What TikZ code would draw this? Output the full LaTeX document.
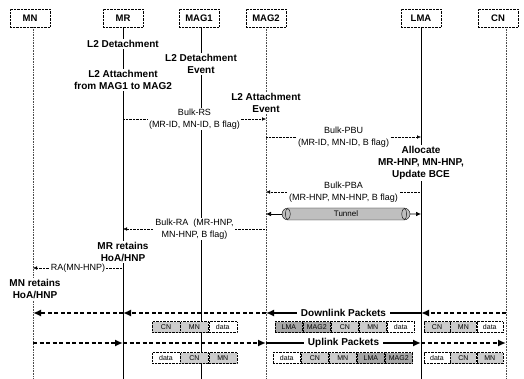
\documentclass[tikz,border=0pt]{standalone}
\usepackage{fontspec}
\setmainfont{Liberation Sans}
\usetikzlibrary{positioning}
\usetikzlibrary{calc}
\usetikzlibrary{arrows.meta}
\usetikzlibrary{shapes.misc}

\begin{document}
\begin{tikzpicture}[x=1pt,y=-1pt,
    ent/.style={draw, densely dotted, minimum width=40pt, minimum height=18pt, inner sep=1pt, font=\fontsize{9.5}{11}\selectfont\bfseries},
    lifedot/.style={draw=black!70, densely dotted, semithick},
    lifesol/.style={draw=black, semithick},
    evt/.style={fill=white, align=center, inner sep=1pt, font=\fontsize{10}{12}\selectfont\bfseries},
    msg/.style={densely dotted, -{Latex[length=4pt,width=3.5pt]}},
    lbl/.style={fill=white, align=center, inner sep=1pt, font=\fontsize{9}{12}\selectfont},
    pkt/.style={draw, densely dotted, fill=black!20, minimum width=28pt, minimum height=11pt, inner sep=0pt, font=\fontsize{7}{8}\selectfont},
    pktd/.style={pkt, fill=black!35},
    pktw/.style={pkt, fill=white},
    flow/.style={line width=1.8pt, -{Latex[length=8pt,width=7pt]}},
    flowd/.style={flow, dash pattern=on 4pt off 2.5pt},
    tunel/.style={draw, rounded rectangle, fill=black!25, minimum width=128pt, minimum height=12pt, inner sep=0pt, font=\fontsize{8}{9}\selectfont}
]
\useasboundingbox (0,0) rectangle (524,379);

% Entidades
\node[ent] (mn) at (30,18) {MN};
\node[ent] (mr) at (123,18) {MR};
\node[ent] (mag1) at (199,18) {MAG1};
\node[ent] (mag2) at (266,18) {MAG2};
\node[ent] (lma) at (421,18) {LMA};
\node[ent] (cn) at (498,18) {CN};

% Linhas de vida
\coordinate (mn-b) at (33,379);
\coordinate (mr-b) at (123,379);
\coordinate (mag1-b) at (201,379);
\coordinate (mag2-b) at (266,379);
\coordinate (lma-b) at (421,379);
\coordinate (cn-b) at (506,379);
\draw[lifedot] (mn.south -| mn-b) -- (mn-b);
\draw[lifesol] (mr) -- (mr-b);
\draw[lifesol, thick] (mag1.south -| mag1-b) -- (mag1-b);
\draw[lifedot] (mag2) -- (mag2-b);
\draw[lifesol, thick] (lma) -- (lma-b);
\draw[lifedot] (cn.south -| cn-b) -- (cn-b);

% Niveis das mensagens
\coordinate (y-rs) at (0,119);
\coordinate (y-pbu) at (0,137);
\coordinate (y-pba) at (0,192);
\coordinate (y-ra) at (0,229);
\coordinate (y-rmn) at (0,268);
\coordinate (y-dl) at (0,313);
\coordinate (y-ul) at (0,343);

% Eventos
\node[evt] (mr-det) at (123,44) {L2 Detachment};
\node[evt] (mr-att) at (123,80) {L2 Attachment\\from MAG1 to MAG2};
\node[evt] (mag1-det) at (201,64) {L2 Detachment\\Event};
\node[evt] (mag2-att) at (266,103) {L2 Attachment\\Event};
\node[evt] (lma-aloc) at (421,163) {Allocate\\MR-HNP, MN-HNP,\\Update BCE};
\node[evt] (mr-ret) at (123,252) {MR retains\\HoA/HNP};
\node[evt] (mn-ret) at (35,289) {MN retains\\HoA/HNP};

% Mensagens
\draw[msg] (mr-b |- y-rs) -- node[lbl] {Bulk-RS\\(MR-ID, MN-ID, B flag)} (mag2-b |- y-rs);
\draw[msg] (mag2-b |- y-pbu) -- node[lbl] {Bulk-PBU\\(MR-ID, MN-ID, B flag)} (lma-b |- y-pbu);
\draw[msg] (lma-b |- y-pba) -- node[lbl] {Bulk-PBA\\(MR-HNP, MN-HNP, B flag)} (mag2-b |- y-pba);
\draw[msg] (mag2-b |- y-ra) -- node[lbl] {Bulk-RA\ \ (MR-HNP,\\MN-HNP, B flag)} (mr-b |- y-ra);
\draw[msg] (mr-b |- y-rmn) -- node[lbl] {RA(MN-HNP)} (mn-b |- y-rmn);

% Tunel
\node[tunel] (tun) at (346,214) {Tunnel};
\draw[semithick, -{Latex[length=5pt,width=4.5pt]}] (tun) -- (mag2-b |- tun);
\draw[semithick, -{Latex[length=5pt,width=4.5pt]}] (tun) -- (lma-b |- tun);
\draw ([xshift=6pt]tun.west) ellipse [x radius=2.5pt, y radius=5.5pt];
\draw ([xshift=-6pt]tun.east) ellipse [x radius=2.5pt, y radius=5.5pt];

% Pacotes de descida
\draw[flowd] (cn-b |- y-dl) -- (lma-b |- y-dl);
\draw[flow] (lma-b |- y-dl) -- node[evt, inner xsep=4pt] {Downlink Packets} (mag2-b |- y-dl);
\draw[flowd] (mag2-b |- y-dl) -- (mr-b |- y-dl);
\draw[flowd] (mr-b |- y-dl) -- (mn-b |- y-dl);

\node[pkt] (d-cn1) at (166,327) {CN};
\node[pkt, right=0pt of d-cn1] (d-mn1) {MN};
\node[pktw, right=0pt of d-mn1] (d-data1) {data};

\node[pktd, minimum width=27.6pt] (d-lma2) at (288.8,327) {LMA};
\node[pktd, minimum width=27.6pt, right=0pt of d-lma2] (d-mag2) {MAG2};
\node[pkt, minimum width=27.6pt, right=0pt of d-mag2] (d-cn2) {CN};
\node[pkt, minimum width=27.6pt, right=0pt of d-cn2] (d-mn2) {MN};
\node[pktw, minimum width=27.6pt, right=0pt of d-mn2] (d-data2) {data};

\node[pkt, minimum width=26pt] (d-cn3) at (437,327) {CN};
\node[pkt, minimum width=26pt, right=0pt of d-cn3] (d-mn3) {MN};
\node[pktw, minimum width=26pt, right=0pt of d-mn3] (d-data3) {data};

% Pacotes de subida
\draw[flowd] (mn-b |- y-ul) -- (mr-b |- y-ul);
\draw[flowd] (mr-b |- y-ul) -- (mag2-b |- y-ul);
\draw[flow] (mag2-b |- y-ul) -- node[evt, inner xsep=4pt] {Uplink Packets} (lma-b |- y-ul);
\draw[flowd] (lma-b |- y-ul) -- (cn-b |- y-ul);

\node[pktw] (u-data1) at (166,358) {data};
\node[pkt, right=0pt of u-data1] (u-cn1) {CN};
\node[pkt, right=0pt of u-cn1] (u-mn1) {MN};

\node[pktw, minimum width=27.6pt] (u-data2) at (286.8,358) {data};
\node[pkt, minimum width=27.6pt, right=0pt of u-data2] (u-cn2) {CN};
\node[pkt, minimum width=27.6pt, right=0pt of u-cn2] (u-mn2) {MN};
\node[pktd, minimum width=27.6pt, right=0pt of u-mn2] (u-lma2) {LMA};
\node[pktd, minimum width=27.6pt, right=0pt of u-lma2] (u-mag2) {MAG2};

\node[pktw, minimum width=26pt] (u-data3) at (437,358) {data};
\node[pkt, minimum width=26pt, right=0pt of u-data3] (u-cn3) {CN};
\node[pkt, minimum width=26pt, right=0pt of u-cn3] (u-mn3) {MN};
\end{tikzpicture}
\end{document}
